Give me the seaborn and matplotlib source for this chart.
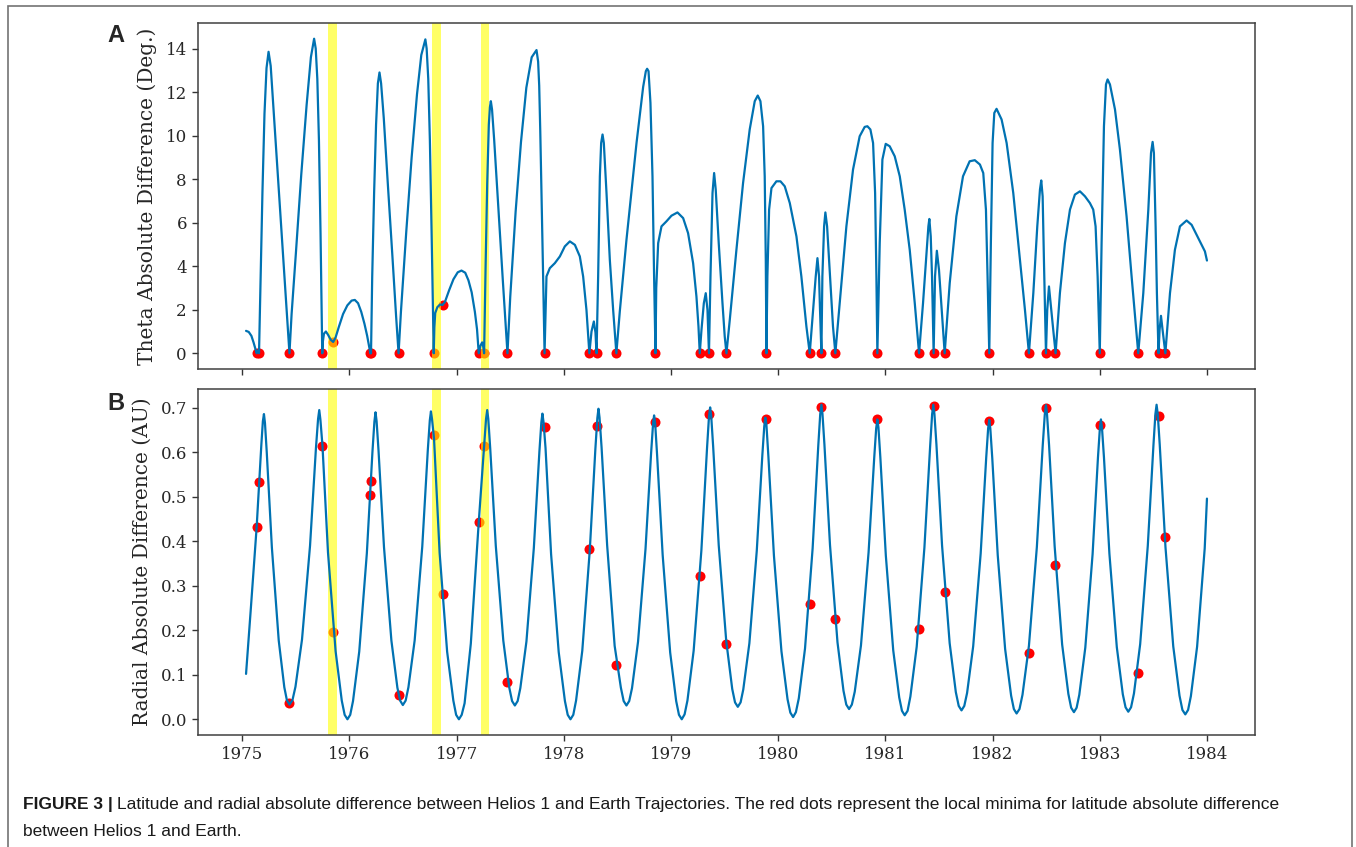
import matplotlib
matplotlib.use("Agg")
import matplotlib.pyplot as plt
import seaborn as sns
from matplotlib.patches import Rectangle

# ---------------- data ----------------
theta_year = [
    1975.035, 1975.06, 1975.085, 1975.105, 1975.122, 1975.134, 1975.145, 1975.156,
    1975.17, 1975.188, 1975.207, 1975.226, 1975.245, 1975.265, 1975.29, 1975.33, 1975.37, 1975.41, 1975.44,
    1975.46, 1975.5, 1975.55, 1975.6, 1975.64, 1975.67, 1975.685, 1975.7, 1975.715, 1975.73, 1975.746,
    1975.752, 1975.762, 1975.78, 1975.8, 1975.825, 1975.848, 1975.87, 1975.9, 1975.94, 1975.98, 1976.02,
    1976.05, 1976.08, 1976.11, 1976.14, 1976.165, 1976.182, 1976.195, 1976.198, 1976.201,
    1976.212, 1976.23, 1976.248, 1976.265, 1976.28, 1976.295, 1976.32, 1976.36, 1976.4, 1976.435, 1976.458,
    1976.48, 1976.53, 1976.58, 1976.63, 1976.67, 1976.708, 1976.72, 1976.735, 1976.75, 1976.766, 1976.786,
    1976.792, 1976.8, 1976.82, 1976.845, 1976.868, 1976.89, 1976.93, 1976.97, 1977.01, 1977.045, 1977.08,
    1977.11, 1977.14, 1977.17, 1977.19, 1977.206, 1977.222, 1977.238, 1977.248, 1977.256,
    1977.27, 1977.285, 1977.3, 1977.31, 1977.319, 1977.33, 1977.35, 1977.39, 1977.43, 1977.474,
    1977.5, 1977.55, 1977.6, 1977.65, 1977.7, 1977.745, 1977.76, 1977.77, 1977.78, 1977.795, 1977.808, 1977.82,
    1977.838, 1977.869, 1977.916, 1977.963, 1978.009, 1978.056, 1978.103, 1978.149, 1978.18, 1978.211, 1978.238,
    1978.258, 1978.28, 1978.295, 1978.305,
    1978.32, 1978.336, 1978.348, 1978.361, 1978.373, 1978.398, 1978.429, 1978.46, 1978.479, 1978.49,
    1978.522, 1978.584, 1978.678, 1978.74, 1978.765, 1978.777, 1978.79, 1978.808, 1978.827, 1978.842, 1978.855,
    1978.862, 1978.88, 1978.911, 1978.957, 1979.004, 1979.06, 1979.113, 1979.159, 1979.206, 1979.237, 1979.256, 1979.268,
    1979.284, 1979.306, 1979.324, 1979.34, 1979.354,
    1979.368, 1979.387, 1979.402, 1979.417, 1979.445, 1979.48, 1979.501, 1979.517,
    1979.548, 1979.61, 1979.672, 1979.734, 1979.781, 1979.809, 1979.834, 1979.859, 1979.874, 1979.884, 1979.89,
    1979.899, 1979.915, 1979.937, 1979.983, 1980.021, 1980.061, 1980.108, 1980.17, 1980.216, 1980.263, 1980.294,
    1980.325, 1980.35, 1980.366, 1980.381, 1980.39, 1980.403,
    1980.412, 1980.428, 1980.44, 1980.456, 1980.48, 1980.511, 1980.533,
    1980.574, 1980.636, 1980.698, 1980.76, 1980.807, 1980.832, 1980.86, 1980.885, 1980.904, 1980.916, 1980.925,
    1980.947, 1980.972, 1981.003, 1981.04, 1981.087, 1981.134, 1981.18, 1981.227, 1981.274, 1981.314,
    1981.351, 1981.382, 1981.401, 1981.41, 1981.423, 1981.435, 1981.45,
    1981.463, 1981.48, 1981.5, 1981.525, 1981.553,
    1981.6, 1981.662, 1981.724, 1981.786, 1981.834, 1981.882, 1981.913, 1981.938, 1981.953, 1981.969,
    1981.984, 1982.0, 1982.016, 1982.037, 1982.084, 1982.131, 1982.193, 1982.255, 1982.302, 1982.339,
    1982.38, 1982.417, 1982.442, 1982.454, 1982.467, 1982.479, 1982.498,
    1982.51, 1982.526, 1982.541, 1982.566, 1982.588,
    1982.628, 1982.675, 1982.722, 1982.768, 1982.815, 1982.862, 1982.908, 1982.939, 1982.961, 1982.98, 1983.0,
    1983.017, 1983.039, 1983.058, 1983.073, 1983.095, 1983.142, 1983.188, 1983.25, 1983.297, 1983.338, 1983.359,
    1983.406, 1983.453, 1983.478, 1983.493, 1983.505, 1983.521, 1983.533, 1983.548,
    1983.558, 1983.571, 1983.586, 1983.612,
    1983.655, 1983.701, 1983.748, 1983.81, 1983.857, 1983.904, 1983.95, 1983.981, 1984.0,
]
theta_diff = [
    1.03, 0.98, 0.8, 0.5, 0.2, 0.0, 0.12, 0.0,
    3.3, 7.4, 11.0, 13.1, 13.85, 13.2, 11.3, 8.3, 5.3, 2.3, 0.0,
    1.8, 4.6, 8.2, 11.4, 13.6, 14.45, 14.0, 12.6, 9.8, 5.5, 0.0,
    0.55, 0.9, 1.0, 0.85, 0.62, 0.52, 0.72, 1.2, 1.8, 2.2, 2.42,
    2.45, 2.3, 1.9, 1.35, 0.8, 0.35, 0.0, 0.12, 0.0,
    3.5, 7.4, 10.5, 12.4, 12.9, 12.4, 10.8, 7.6, 4.5, 1.7, 0.0,
    1.9, 5.6, 9.0, 11.9, 13.7, 14.42, 14.0, 12.6, 9.8, 5.6, 0.0,
    1.2, 1.85, 2.12, 2.24, 2.22, 2.35, 2.9, 3.4, 3.72, 3.8, 3.7,
    3.35, 2.8, 1.9, 1.1, 0.0, 0.35, 0.5, 0.3, 0.0,
    4.0, 7.8, 10.5, 11.3, 11.58, 11.2, 9.8, 6.6, 3.4, 0.0,
    2.6, 6.5, 9.7, 12.2, 13.6, 13.93, 13.4, 12.3, 10.2, 6.5, 3.2, 0.0,
    3.53, 3.91, 4.14, 4.45, 4.91, 5.14, 4.98, 4.45, 3.53, 1.99, 0.0,
    1.0, 1.46, 0.95, 0.0,
    3.53, 8.13, 9.66, 10.05, 9.66, 7.36, 4.29, 1.99, 0.77, 0.0,
    1.92, 5.2, 9.66, 12.24, 12.96, 13.07, 12.96, 11.5, 8.13, 3.53, 0.0,
    3.0, 5.06, 5.83, 6.06, 6.32, 6.47, 6.21, 5.52, 4.14, 2.61, 1.23, 0.0,
    1.07, 2.3, 2.76, 1.99, 0.0,
    3.53, 7.36, 8.28, 7.52, 5.06, 2.3, 0.77, 0.0,
    1.53, 4.75, 7.82, 10.28, 11.58, 11.84, 11.58, 10.43, 8.13, 4.29, 0.0,
    3.53, 6.6, 7.59, 7.9, 7.9, 7.67, 6.9, 5.37, 3.53, 1.23, 0.0,
    1.99, 3.53, 4.37, 3.53, 1.99, 0.0,
    3.53, 5.83, 6.47, 5.83, 3.83, 1.23, 0.0,
    2.3, 5.83, 8.44, 9.97, 10.4, 10.43, 10.28, 9.66, 7.36, 3.53, 0.0,
    5.06, 8.9, 9.62, 9.51, 9.05, 8.13, 6.6, 4.75, 2.3, 0.0,
    2.3, 4.45, 5.83, 6.17, 5.37, 3.53, 0.0,
    3.53, 4.71, 3.83, 1.99, 0.0,
    3.22, 6.29, 8.13, 8.82, 8.87, 8.67, 8.28, 6.6, 3.53, 0.0,
    5.06, 9.66, 11.04, 11.23, 10.74, 9.66, 7.36, 4.29, 1.99, 0.0,
    2.76, 5.83, 7.52, 7.94, 7.21, 4.29, 0.0,
    1.99, 3.07, 2.3, 1.07, 0.0,
    2.76, 5.06, 6.6, 7.29, 7.44, 7.21, 6.9, 6.6, 5.83, 3.53, 0.0,
    5.06, 10.43, 12.35, 12.58, 12.35, 11.2, 9.36, 6.29, 3.53, 1.23, 0.0,
    2.76, 6.6, 9.2, 9.71, 9.2, 5.83, 2.76, 0.0,
    1.07, 1.72, 1.07, 0.0,
    2.76, 4.75, 5.83, 6.1, 5.9, 5.44, 4.98, 4.68, 4.26,
]

radial_year = [
    1975.035, 1975.08, 1975.134, 1975.158, 1975.178, 1975.192, 1975.202, 1975.2115, 1975.228, 1975.276,
    1975.34, 1975.392, 1975.416, 1975.44, 1975.468, 1975.496, 1975.557, 1975.632, 1975.687, 1975.707,
    1975.718, 1975.7285, 1975.748, 1975.7995, 1975.8705, 1975.928, 1975.955, 1975.981, 1976.007, 1976.033,
    1976.091, 1976.162, 1976.214, 1976.2325, 1976.243, 1976.253, 1976.271, 1976.322, 1976.391, 1976.447,
    1976.4725, 1976.498, 1976.524, 1976.55, 1976.608, 1976.679, 1976.731, 1976.7495, 1976.76, 1976.77,
    1976.789, 1976.841, 1976.911, 1976.969, 1976.995, 1977.021, 1977.047, 1977.074, 1977.132, 1977.206,
    1977.256, 1977.274, 1977.285, 1977.295, 1977.313, 1977.365, 1977.435, 1977.491, 1977.517, 1977.543,
    1977.569, 1977.594, 1977.651, 1977.72, 1977.772, 1977.79, 1977.8, 1977.8105, 1977.829, 1977.881,
    1977.952, 1978.01, 1978.036, 1978.062, 1978.088, 1978.114, 1978.172, 1978.242, 1978.294, 1978.3125,
    1978.323, 1978.333, 1978.352, 1978.404, 1978.474, 1978.532, 1978.558, 1978.584, 1978.61, 1978.636,
    1978.692, 1978.762, 1978.814, 1978.832, 1978.842, 1978.852, 1978.87, 1978.922, 1978.992, 1979.048,
    1979.074, 1979.1, 1979.1265, 1979.153, 1979.211, 1979.283, 1979.336, 1979.354, 1979.365, 1979.375,
    1979.393, 1979.445, 1979.515, 1979.571, 1979.597, 1979.623, 1979.649, 1979.674, 1979.731, 1979.8,
    1979.852, 1979.87, 1979.88, 1979.89, 1979.9085, 1979.96, 1980.03, 1980.087, 1980.113, 1980.139,
    1980.165, 1980.192, 1980.25, 1980.321, 1980.374, 1980.392, 1980.403, 1980.413, 1980.431, 1980.483,
    1980.553, 1980.609, 1980.635, 1980.661, 1980.687, 1980.714, 1980.772, 1980.843, 1980.896, 1980.914,
    1980.925, 1980.935, 1980.953, 1981.004, 1981.073, 1981.129, 1981.1545, 1981.18, 1981.207, 1981.233,
    1981.292, 1981.364, 1981.418, 1981.436, 1981.447, 1981.4575, 1981.476, 1981.5285, 1981.5995, 1981.657,
    1981.684, 1981.71, 1981.736, 1981.762, 1981.819, 1981.889, 1981.9405, 1981.9586, 1981.969, 1981.979,
    1981.997, 1982.048, 1982.117, 1982.173, 1982.1985, 1982.224, 1982.251, 1982.279, 1982.339, 1982.413,
    1982.468, 1982.487, 1982.498, 1982.508, 1982.527, 1982.579, 1982.649, 1982.707, 1982.733, 1982.759,
    1982.784, 1982.809, 1982.865, 1982.933, 1982.983, 1983.001, 1983.011, 1983.021, 1983.039, 1983.09,
    1983.159, 1983.215, 1983.2405, 1983.266, 1983.292, 1983.319, 1983.377, 1983.448, 1983.501, 1983.519,
    1983.53, 1983.541, 1983.5595, 1983.613, 1983.6855, 1983.744, 1983.771, 1983.798, 1983.824, 1983.85,
    1983.908, 1983.979, 1984.0,
]
radial_diff = [
    0.102, 0.25, 0.432, 0.534, 0.618, 0.670, 0.686, 0.666, 0.601, 0.386,
    0.177, 0.072, 0.043, 0.033, 0.043, 0.073, 0.179, 0.390, 0.609, 0.675,
    0.695, 0.674, 0.615, 0.375, 0.153, 0.042, 0.010, 0.000, 0.010, 0.041,
    0.152, 0.373, 0.600, 0.669, 0.690, 0.670, 0.604, 0.387, 0.177, 0.071,
    0.042, 0.032, 0.042, 0.072, 0.177, 0.388, 0.606, 0.672, 0.692, 0.675,
    0.630, 0.374, 0.152, 0.042, 0.010, 0.000, 0.010, 0.036, 0.170, 0.443,
    0.614, 0.675, 0.695, 0.675, 0.609, 0.390, 0.177, 0.071, 0.041, 0.031,
    0.041, 0.070, 0.175, 0.385, 0.602, 0.667, 0.687, 0.668, 0.610, 0.371,
    0.151, 0.041, 0.010, 0.000, 0.010, 0.042, 0.154, 0.380, 0.607, 0.677,
    0.698, 0.678, 0.611, 0.391, 0.165, 0.071, 0.041, 0.031, 0.041, 0.070,
    0.174, 0.383, 0.598, 0.663, 0.683, 0.665, 0.594, 0.369, 0.150, 0.041,
    0.010, 0.000, 0.011, 0.042, 0.154, 0.379, 0.610, 0.680, 0.701, 0.681,
    0.613, 0.391, 0.176, 0.068, 0.038, 0.028, 0.038, 0.067, 0.171, 0.379,
    0.594, 0.659, 0.678, 0.662, 0.590, 0.368, 0.153, 0.045, 0.015, 0.005,
    0.016, 0.047, 0.159, 0.384, 0.616, 0.686, 0.707, 0.686, 0.618, 0.392,
    0.173, 0.064, 0.033, 0.023, 0.033, 0.062, 0.166, 0.375, 0.589, 0.654,
    0.674, 0.656, 0.588, 0.368, 0.155, 0.049, 0.019, 0.009, 0.019, 0.051,
    0.163, 0.386, 0.616, 0.686, 0.707, 0.686, 0.618, 0.391, 0.171, 0.061,
    0.030, 0.020, 0.030, 0.059, 0.164, 0.373, 0.588, 0.654, 0.673, 0.653,
    0.587, 0.369, 0.158, 0.053, 0.023, 0.013, 0.023, 0.055, 0.165, 0.387,
    0.616, 0.685, 0.706, 0.685, 0.616, 0.389, 0.168, 0.057, 0.026, 0.016,
    0.026, 0.055, 0.161, 0.371, 0.588, 0.654, 0.674, 0.654, 0.589, 0.372,
    0.162, 0.056, 0.027, 0.017, 0.027, 0.058, 0.169, 0.390, 0.617, 0.686,
    0.707, 0.686, 0.617, 0.387, 0.164, 0.053, 0.021, 0.011, 0.021, 0.052,
    0.163, 0.384, 0.496,
]

# local minima of the latitude difference (red dots)
minima_year = [
    1975.134, 1975.156, 1975.44, 1975.748, 1975.85, 1976.195, 1976.201, 1976.458, 1976.787,
    1976.868, 1977.206, 1977.256, 1977.474, 1977.82, 1978.238, 1978.305, 1978.49, 1978.855,
    1979.268, 1979.354, 1979.517, 1979.89, 1980.294, 1980.403, 1980.533, 1980.925, 1981.314,
    1981.45, 1981.553, 1981.969, 1982.339, 1982.498, 1982.586, 1983.0, 1983.36, 1983.55, 1983.612,
]
minima_theta = [
    0, 0, 0, 0, 0.52, 0, 0, 0, 0,
    2.22, 0, 0, 0, 0, 0, 0, 0, 0,
    0, 0, 0, 0, 0, 0, 0, 0, 0,
    0, 0, 0, 0, 0, 0, 0, 0, 0, 0,
]
minima_radial = [
    0.432, 0.534, 0.037, 0.614, 0.197, 0.504, 0.536, 0.054, 0.639,
    0.281, 0.443, 0.614, 0.083, 0.658, 0.383, 0.659, 0.122, 0.669,
    0.322, 0.686, 0.170, 0.675, 0.260, 0.701, 0.225, 0.675, 0.203,
    0.705, 0.286, 0.671, 0.150, 0.699, 0.347, 0.662, 0.105, 0.682, 0.409,
]

highlight_start = [1975.803, 1976.774, 1977.225]
highlight_end = [1975.884, 1976.855, 1977.306]

year_ticks = [1975, 1976, 1977, 1978, 1979, 1980, 1981, 1982, 1983, 1984]
panel_labels = ["A", "B"]
y_labels = ["Theta Absolute Difference (Deg.)", "Radial Absolute Difference (AU)"]
caption_bold = "FIGURE 3 |"
caption_line1 = ("Latitude and radial absolute difference between Helios 1 and Earth Trajectories. "
                 "The red dots represent the local minima for latitude absolute difference")
caption_line2 = "between Helios 1 and Earth."

# ---------------- drawing ----------------
sns.set_theme(style="ticks")
plt.rcParams["font.family"] = ["DejaVu Serif"]

W, H = 1356, 847
fig = plt.figure(figsize=(W / 100, H / 100), dpi=100)
fig.patch.set_facecolor("white")

ax_a = fig.add_axes([198 / W, 1 - 369 / H, 1057 / W, 346 / H])
ax_b = fig.add_axes([198 / W, 1 - 735 / H, 1057 / W, 346 / H])

line_color = "#0072B2"
panels = [
    (ax_a, theta_year, theta_diff, minima_theta),
    (ax_b, radial_year, radial_diff, minima_radial),
]
for i, (ax, xs, ys, dots) in enumerate(panels):
    sns.scatterplot(x=minima_year, y=dots, ax=ax, color="red", s=52, linewidth=0, zorder=1)
    for s0, s1 in zip(highlight_start, highlight_end):
        ax.axvspan(s0, s1, color="yellow", alpha=0.6, lw=0, zorder=1)
    sns.lineplot(x=xs, y=ys, ax=ax, color=line_color, linewidth=1.6,
                 estimator=None, sort=False, zorder=2)
    ax.set_xticks(year_ticks)
    ax.set_ylabel(y_labels[i], fontsize=14.5, family="DejaVu Serif", labelpad=6)
    ax.tick_params(axis="both", labelsize=12, length=4, width=1, color="0.2", pad=4)
    for sp in ax.spines.values():
        sp.set_color("0.25")
        sp.set_linewidth(1.1)

ax_a.tick_params(axis="x", labelbottom=False)
ax_b.set_xticklabels([str(y) for y in year_ticks])
ax_a.set_xlabel("")
ax_b.set_xlabel("")

# panel letters
fig.text(107 / W, 1 - 42 / H, panel_labels[0], fontsize=17, fontweight="bold",
         family="Liberation Sans", ha="left", va="baseline")
fig.text(107 / W, 1 - 410 / H, panel_labels[1], fontsize=17, fontweight="bold",
         family="Liberation Sans", ha="left", va="baseline")

# caption
cap_kw = dict(fontsize=12.5, family="Liberation Sans", color="#1a1a1a", va="center", ha="left")
bold_txt = fig.text(23 / W, 1 - 804 / H, caption_bold, fontweight="bold", **cap_kw)
renderer = fig.canvas.get_renderer()
bold_w = bold_txt.get_window_extent(renderer=renderer).width
fig.text((23 + bold_w + 4) / W, 1 - 804 / H, caption_line1, **cap_kw)
fig.text(23 / W, 1 - 831 / H, caption_line2, **cap_kw)

# outer frame of the figure panel
fig.add_artist(Rectangle((8 / W, -0.05), (1352 - 8) / W, 1.05 - 6 / H,
                         transform=fig.transFigure, fill=False,
                         edgecolor="0.45", linewidth=1.2, clip_on=False))

fig.savefig("out.png", dpi=100, facecolor="white")
